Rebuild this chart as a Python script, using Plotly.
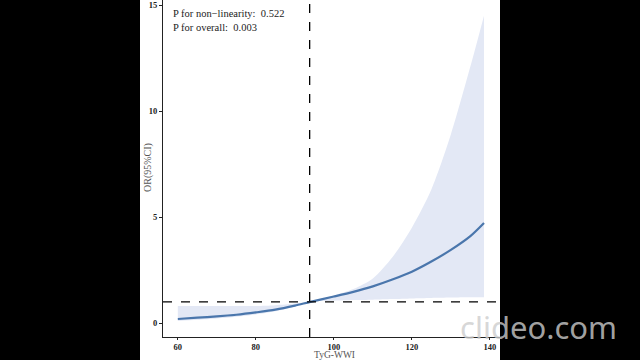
import plotly.graph_objects as go

# Data
x_vals = [60, 65, 70, 75, 80, 85, 90, 94, 100, 105, 110, 115, 120, 125, 130, 135, 138.5]
or_vals = [0.19, 0.25, 0.31, 0.39, 0.50, 0.63, 0.82, 1.0, 1.25, 1.47, 1.73, 2.05, 2.42, 2.90, 3.45, 4.10, 4.72]
upper_vals = [0.80, 0.80, 0.80, 0.80, 0.80, 0.84, 0.92, 1.0, 1.3, 1.6, 2.1, 3.1, 4.5, 6.3, 8.9, 12.1, 14.5]
lower_vals = [0.10, 0.15, 0.21, 0.29, 0.40, 0.55, 0.78, 1.0, 1.05, 1.08, 1.10, 1.13, 1.16, 1.18, 1.20, 1.21, 1.22]
ref_x = 93.8
ref_y = 1.0
x_ticks = [60, 80, 100, 120, 140]
y_ticks = [0, 5, 10, 15]
p_texts = ["P for non\u2212linearity:  0.522", "P for overall:  0.003"]

W, H = 640, 360
L, R, T, B = 163, 140, 0, 23
pw, ph = W - L - R, H - T - B

fig = go.Figure()
fig.add_trace(go.Scatter(x=x_vals, y=lower_vals, mode="lines",
                         line=dict(width=0, shape="spline", smoothing=0.8),
                         hoverinfo="skip", showlegend=False))
fig.add_trace(go.Scatter(x=x_vals, y=upper_vals, mode="lines", fill="tonexty",
                         fillcolor="#E3E8F5",
                         line=dict(width=0, shape="spline", smoothing=0.8),
                         hoverinfo="skip", showlegend=False))
fig.add_trace(go.Scatter(x=x_vals, y=or_vals, mode="lines",
                         line=dict(color="#4A76AC", width=2.2, shape="spline", smoothing=0.8),
                         showlegend=False))

# reference lines
fig.add_shape(type="line", xref="x", yref="paper", x0=ref_x, x1=ref_x, y0=0, y1=1,
              line=dict(color="black", width=1.3, dash="dash"))
fig.add_shape(type="line", xref="paper", yref="y", x0=0, x1=1, y0=ref_y, y1=ref_y,
              line=dict(color="black", width=1.3, dash="dash"))

# white page area over black background
fig.add_shape(type="rect", xref="paper", yref="paper", layer="below",
              x0=(140 - L) / pw, x1=1.0, y0=-B / ph, y1=1.0,
              fillcolor="white", line=dict(width=0))

fig.add_annotation(text="<br>".join(p_texts), xref="paper", yref="paper",
                   x=(171 - L) / pw, y=1 - 6 / ph, xanchor="left", yanchor="top",
                   align="left", showarrow=False,
                   font=dict(family="Liberation Serif", size=10.5, color="#222"))

# axis titles
fig.add_annotation(text="TyG-WWI", xref="paper", yref="paper",
                   x=(334 - L) / pw, y=-(355 - ph) / ph, xanchor="center", yanchor="middle",
                   showarrow=False,
                   font=dict(family="Liberation Serif", size=9.5, color="#555"))
fig.add_annotation(text="OR(95%CI)", xref="paper", yref="paper", textangle=-90,
                   x=(148 - L) / pw, y=(ph - 168) / ph, xanchor="center", yanchor="middle",
                   showarrow=False,
                   font=dict(family="Liberation Serif", size=10, color="#555"))

# watermark
fig.add_annotation(text="clideo.com", xref="paper", yref="paper",
                   x=(538 - L) / pw, y=(ph - 327) / ph, xanchor="center", yanchor="middle",
                   showarrow=False,
                   font=dict(family="Noto Sans", size=31, color="rgba(205,205,205,0.8)"))

fig.update_xaxes(range=[56.2, 142.6], tickvals=x_ticks, showgrid=False, zeroline=False,
                 showline=True, linecolor="#222", linewidth=1.2, ticks="outside",
                 ticklen=2, tickcolor="#222", automargin=False,
                 tickfont=dict(family="Liberation Serif", size=8.5, color="#222", weight="bold"))
fig.update_yaxes(range=[-0.66, 15.24], tickvals=y_ticks, showgrid=False, zeroline=False,
                 showline=True, linecolor="#222", linewidth=1.2, ticks="outside",
                 ticklen=3, tickcolor="#222", automargin=False,
                 tickfont=dict(family="Liberation Serif", size=8.5, color="#222", weight="bold"))

fig.update_layout(width=W, height=H, margin=dict(l=L, r=R, t=T, b=B, autoexpand=False),
                  paper_bgcolor="black", plot_bgcolor="white")

fig.write_html("out.html", config={"displayModeBar": False},
               post_script="document.body.style.margin='0';document.body.style.background='black';")
